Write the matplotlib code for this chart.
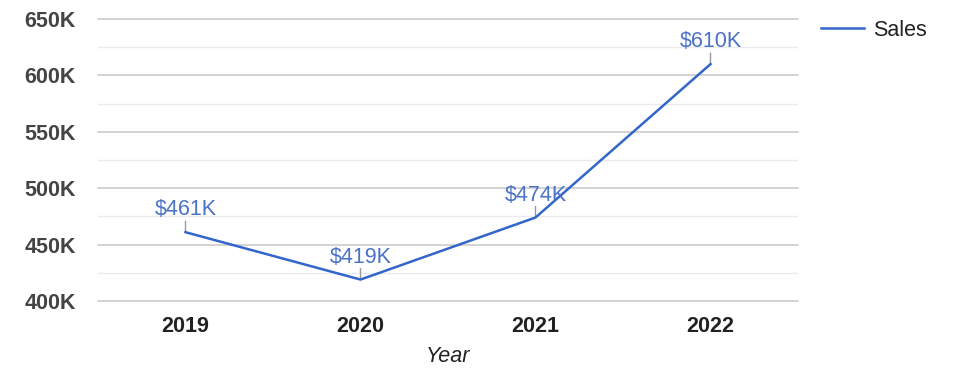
import matplotlib
matplotlib.use("Agg")
import matplotlib.pyplot as plt
from matplotlib.ticker import FuncFormatter

years = ["2019", "2020", "2021", "2022"]
sales = [461, 419, 474, 610]  # thousands of dollars
series_name = "Sales"
major_ticks = [400, 450, 500, 550, 600, 650]
minor_ticks = [425, 475, 525, 575, 625]

plt.rcParams['font.family'] = ['Liberation Sans', 'DejaVu Sans']

W, H = 975, 378
FS = 15.5
fig = plt.figure(figsize=(W / 100, H / 100), dpi=100)
ax = fig.add_axes([98 / W, 1 - 301 / H, 700 / W, 282 / H])

x = list(range(len(years)))
line_color = "#3366cc"
label_color = "#4a72c8"
ax.plot(x, sales, color=line_color, lw=1.8, label=series_name, zorder=3)

ax.set_xlim(-0.5, len(years) - 0.5)
ax.set_ylim(400, 650)
ax.set_yticks(major_ticks)
ax.yaxis.set_major_formatter(FuncFormatter(lambda v, p: f"{int(v)}K"))
for v in minor_ticks:
    ax.axhline(v, color='#ebebeb', lw=1, zorder=0)
for v in major_ticks:
    ax.axhline(v, color='#c8c8c8', lw=1.1, zorder=1, clip_on=False)
for s in ax.spines.values():
    s.set_visible(False)
ax.tick_params(axis='both', which='both', length=0)
ax.tick_params(axis='y', pad=16)
ax.tick_params(axis='x', pad=11)
ax.set_xticks(x)
ax.set_xticklabels(years)
for t in ax.get_yticklabels():
    t.set_fontsize(FS)
    t.set_fontweight('bold')
    t.set_color('#444444')
for t in ax.get_xticklabels():
    t.set_fontsize(FS)
    t.set_fontweight('bold')
    t.set_color('#222222')
ax.set_xlabel("Year", fontsize=FS, style='italic', color='#222222', labelpad=6)

for xi, v in zip(x, sales):
    ax.annotate('', xy=(xi, v), xytext=(0, 11), textcoords='offset pixels',
                arrowprops=dict(arrowstyle='-', color='#999999', lw=1,
                                shrinkA=0, shrinkB=0), zorder=2)
    ax.annotate(f"${v}K", xy=(xi, v), xytext=(0, 12), textcoords='offset pixels',
                ha='center', va='bottom', fontsize=FS, color=label_color, zorder=4)

leg = ax.legend(loc='upper left', bbox_to_anchor=(812 / W, 1 - 11 / H),
                bbox_transform=fig.transFigure, frameon=False, fontsize=FS,
                handlelength=2.0, handletextpad=0.45, borderaxespad=0)
for t in leg.get_texts():
    t.set_color('#222222')

fig.savefig("out.png", dpi=100)
